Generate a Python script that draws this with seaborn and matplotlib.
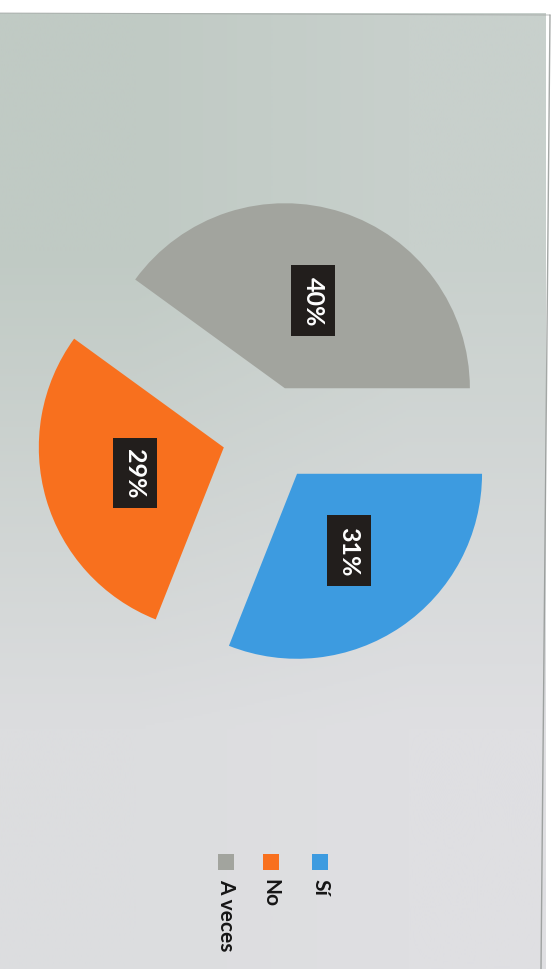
import numpy as np
import matplotlib
matplotlib.use("Agg")
import matplotlib.pyplot as plt
import seaborn as sns

# ---- data ----
categories = ["Sí", "No", "A veces"]
values = [31, 29, 40]
pct_labels = ["31%", "29%", "40%"]

sns.set_theme(style="white")
plt.rcParams['font.family'] = ['Lato', 'DejaVu Sans']

colors = sns.color_palette(["#3d9be0", "#f8701e", "#a2a49e"])

W, H, DPI = 559, 970, 100
fig = plt.figure(figsize=(W / DPI, H / DPI), dpi=DPI)
fig.patch.set_facecolor("white")

# photographed paper background (soft gradient)
bg = fig.add_axes([0, 0, 1, 1])
corners = np.array([
    [[192, 202, 196], [200, 208, 204]],
    [[220, 221, 223], [223, 223, 226]],
], dtype=float) / 255.0
bg.imshow(corners, extent=[0, 546, H, 14], interpolation="bilinear", aspect="auto", zorder=0)
bg.plot([0, 550], [14, 16], color="#9a9e9c", lw=0.8, alpha=0.6)
bg.plot([550, 541], [16, H], color="#8e9290", lw=1.0, alpha=0.8)
bg.set_xlim(0, W)
bg.set_ylim(H, 0)
bg.axis("off")

# pie axes: center at pixel (270, 435), radius 185 px
cx, cy, R = 270.0, 435.0, 185.0
ax = fig.add_axes([0, 0, 1, 1])
ax.set_facecolor("none")

wedges, texts = ax.pie(
    values,
    colors=colors,
    startangle=0,
    counterclock=False,
    explode=[0.26, 0.26, 0.26],
    radius=1.0,
    labels=pct_labels,
    labeldistance=0.5,
    textprops=dict(color="white", fontsize=18, fontweight="bold",
                   rotation=-90, ha="center", va="center"),
    wedgeprops=dict(linewidth=0),
)
for t in texts:
    t.set_rotation(-90)
    t.set_bbox(dict(boxstyle="square,pad=0.42", fc="#221e1c", ec="none"))

ax.set_aspect("auto")
ax.set_xlim(-cx / R, (W - cx) / R)
ax.set_ylim(-(H - cy) / R, cy / R)
ax.axis("off")

# legend (rotated, at the bottom)
leg_x = [0.573, 0.484, 0.405]  # axes fraction positions
for xf, c, name in zip(leg_x, colors, categories):
    ax.scatter([xf], [0.1105], marker="s", s=120, color=c, transform=ax.transAxes,
               clip_on=False, linewidths=0)
    ax.text(xf, 0.0935, name, rotation=-90, ha="center", va="top",
            fontsize=15, fontweight="bold", color="#151515", transform=ax.transAxes)

fig.savefig("out.png", dpi=DPI, facecolor=fig.get_facecolor())
